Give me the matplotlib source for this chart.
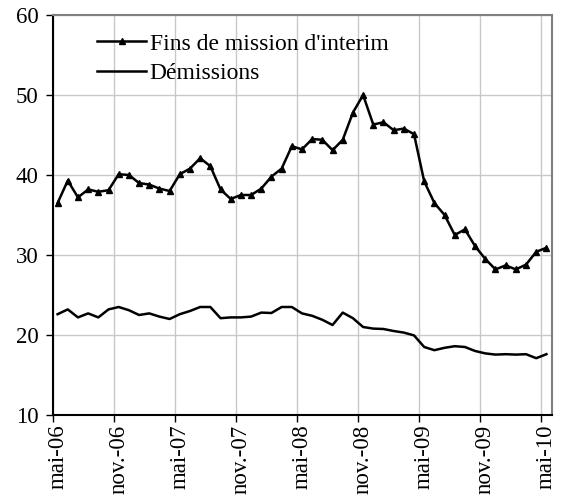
import numpy as np
import matplotlib
matplotlib.use("Agg")
import matplotlib.pyplot as plt

plt.rcParams['font.family'] = ['Liberation Serif', 'DejaVu Serif']

# monthly, mai-06 .. mai-10
fins_mission = [36.5, 39.3, 37.2, 38.2, 37.9, 38.1, 40.1, 40.0, 39.0, 38.8,
                38.3, 38.0, 40.1, 40.8, 42.1, 41.1, 38.2, 37.0, 37.5, 37.5,
                38.3, 39.8, 40.8, 43.6, 43.2, 44.5, 44.4, 43.1, 44.4, 47.8,
                50.0, 46.3, 46.6, 45.6, 45.8, 45.1, 39.2, 36.5, 35.0, 32.5,
                33.2, 31.1, 29.5, 28.2, 28.7, 28.2, 28.8, 30.4, 30.9]
demissions = [22.6, 23.2, 22.2, 22.7, 22.2, 23.2, 23.5, 23.1, 22.5, 22.7,
              22.3, 22.0, 22.6, 23.0, 23.5, 23.5, 22.1, 22.2, 22.2, 22.3,
              22.8, 22.75, 23.5, 23.5, 22.7, 22.4, 21.9, 21.25, 22.8, 22.1,
              21.0, 20.8, 20.75, 20.5, 20.3, 19.95, 18.5, 18.1, 18.4, 18.6,
              18.5, 18.0, 17.7, 17.55, 17.6, 17.55, 17.6, 17.1, 17.6]
tick_labels = ['mai-06', 'nov.-06', 'mai-07', 'nov.-07', 'mai-08',
               'nov.-08', 'mai-09', 'nov.-09', 'mai-10']

x = np.arange(len(fins_mission))
fs = 17
tfs = 16.5

fig = plt.figure(figsize=(5.63, 4.95), dpi=100)
ax = fig.add_axes([52.5 / 563, 80 / 495, 499 / 563, 400 / 495])

ax.plot(x, fins_mission, color='black', lw=1.8, marker='^', ms=5,
        label="Fins de mission d'interim")
ax.plot(x, demissions, color='black', lw=1.8, label='Démissions')

ax.set_xlim(-0.5, len(x) - 0.5)
ax.set_ylim(10, 60)
ax.set_yticks(np.arange(10, 61, 10))

# gridlines/ticks between categories, labels on the categories
ax.set_xticks(np.arange(-0.5, len(x), 6))
ax.set_xticklabels([])
ax.set_xticks(np.arange(0, len(x), 6), minor=True)
ax.set_xticklabels(tick_labels, minor=True, rotation=90, fontsize=tfs)
ax.tick_params(axis='x', which='minor', length=0, pad=7)
ax.tick_params(axis='x', which='major', length=5, direction='out', width=1)
ax.tick_params(axis='y', length=5, direction='out', width=1, labelsize=tfs, pad=5)

ax.grid(True, which='major', color='#c8c8c8', lw=1)
ax.set_axisbelow(True)

for s in ['top', 'right']:
    ax.spines[s].set_color('#808080')
    ax.spines[s].set_linewidth(1.5)
for s in ['left', 'bottom']:
    ax.spines[s].set_color('black')
    ax.spines[s].set_linewidth(1.5)

ax.legend(loc='upper left', bbox_to_anchor=(0.089, 0.955), frameon=False,
          fontsize=fs, handlelength=2.1, handletextpad=0.13,
          labelspacing=0.33, borderaxespad=0, borderpad=0)

fig.savefig('out.png', dpi=100)
